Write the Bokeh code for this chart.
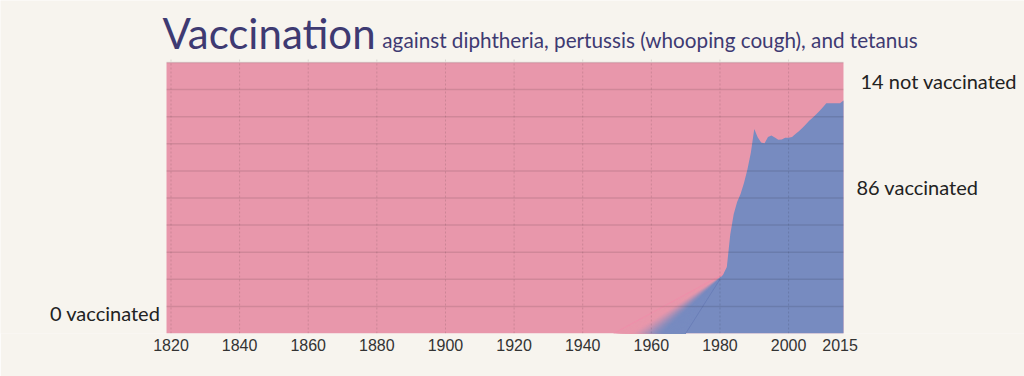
from bokeh.plotting import figure
from bokeh.models import Label, FixedTicker, Range1d
from bokeh.embed import file_html
from bokeh.resources import INLINE

# ---------------- data ----------------
years = [1980, 1981, 1982, 1983, 1984, 1985, 1986, 1987, 1988, 1989,
         1990, 1991, 1992, 1993, 1994, 1995, 1996, 1997, 1998, 1999,
         2000, 2001, 2002, 2003, 2004, 2005, 2006, 2007, 2008, 2009,
         2010, 2011, 2012, 2013, 2014, 2015, 2016]
vaccinated = [20.0, 22.0, 24.5, 36.5, 44.0, 48.5, 51.5, 55.5, 60.5, 66.7,
              75.5, 72.4, 70.5, 70.2, 72.5, 73.1, 72.3, 71.5, 71.6, 72.2,
              72.2, 72.5, 73.6, 74.6, 75.8, 77.1, 78.5, 79.6, 80.8, 82.1,
              83.5, 85.0, 85.0, 85.0, 85.0, 85.0, 86.0]
# estimated (pre-data) range: lower and upper guesses of when coverage began
est_lower_years = [1970, 1980]
est_lower_values = [0, 20.0]
est_upper_years = [1949, 1981]
est_upper_values = [0, 22.0]

x_ticks = [1820, 1840, 1860, 1880, 1900, 1920, 1940, 1960, 1980, 2000, 2015]
x_grid = [1820, 1840, 1860, 1880, 1900, 1920, 1940, 1960, 1980, 2000]
y_grid = [10, 20, 30, 40, 50, 60, 70, 80, 90, 100]

latest = vaccinated[-1]

# ---------------- layout / styling ----------------
PLOT_X0, PLOT_X1 = 1818.7, 2016.0      # extent of the coloured plot area
BG = "#F7F4EE"
PINK = (232, 151, 171)
BLUE = (119, 139, 192)
TITLE_C = "#3E3A72"
TEXT_C = "#222222"


def hexc(c):
    return "#%02x%02x%02x" % tuple(int(round(v)) for v in c)


p = figure(width=1024, height=376, output_backend="svg", toolbar_location=None,
           x_range=Range1d(1770.31, 2068.76), y_range=Range1d(0, 122.88),
           y_axis_location=None,
           min_border_left=0, min_border_right=0,
           min_border_top=0, min_border_bottom=43)
p.background_fill_color = BG
p.border_fill_color = BG
p.outline_line_color = None
p.xgrid.visible = False
p.ygrid.visible = False

# not-vaccinated (pink) background of the plot area
p.quad(left=PLOT_X0, right=PLOT_X1, bottom=0, top=100,
       fill_color=hexc(PINK), line_color=None)

# gradient band between the two estimate lines (cumulative strips, no seams)
N = 60
xs, ys, cols = [], [], []
for k in range(N):
    t0 = k / N
    bx = est_upper_years[0] + (est_lower_years[0] - est_upper_years[0]) * t0
    tx = est_upper_years[1] + (est_lower_years[1] - est_upper_years[1]) * t0
    ty = est_upper_values[1] + (est_lower_values[1] - est_upper_values[1]) * t0
    xs.append([bx, tx, est_lower_years[1], est_lower_years[0]])
    ys.append([0, ty, est_lower_values[1], est_lower_values[0]])
    s = min(max((t0 - 0.2) / 0.5, 0), 1)
    s = s * s * (3 - 2 * s)
    cols.append(hexc([PINK[i] + (BLUE[i] - PINK[i]) * s for i in range(3)]))
p.patches(xs=xs, ys=ys, fill_color=cols, line_color=None)

# vaccinated area
area_x = est_lower_years[:1] + years
area_y = est_lower_values[:1] + vaccinated
p.varea(x=area_x, y1=0, y2=area_y, fill_color=hexc(BLUE))

# faint estimate lines
p.line(est_upper_years, est_upper_values, line_color="#F28BA9", line_alpha=0.7, line_width=1)
p.line(est_lower_years, est_lower_values, line_color="#6276B2", line_alpha=0.6, line_width=1)

# grid lines over the areas
p.segment(x0=PLOT_X0, x1=PLOT_X1, y0=y_grid, y1=y_grid,
          line_color="#000000", line_alpha=0.1, line_width=1.5)
p.segment(x0=x_grid, x1=x_grid, y0=0, y1=101.5,
          line_color="#000000", line_alpha=0.12, line_width=1, line_dash="2 2")

# x axis
ax = p.xaxis[0]
ax.ticker = FixedTicker(ticks=x_ticks)
ax.axis_line_color = None
ax.major_tick_line_color = None
ax.minor_tick_line_color = None
ax.major_tick_out = 0
ax.major_tick_in = 0
ax.major_label_standoff = 5
ax.major_label_text_font = "Liberation Sans"
ax.major_label_text_font_size = "16px"
ax.major_label_text_color = "#333333"

# texts
p.add_layout(Label(x=1817.5, y=110.9, text="Vaccination", text_font="Lato",
                   text_font_size="42px", text_color=TITLE_C,
                   text_baseline="alphabetic", text_align="left"))
p.add_layout(Label(x=1881.6, y=108.3,
                   text="against diphtheria, pertussis (whooping cough), and tetanus",
                   text_font="Lato", text_font_size="20.7px", text_color=TITLE_C,
                   text_baseline="alphabetic", text_align="left"))
p.add_layout(Label(x=2020.96, y=93.3, text=f"{100 - latest:.0f} not vaccinated",
                   text_font="Lato", text_font_size="20px", text_color=TEXT_C,
                   text_baseline="middle", text_align="left"))
p.add_layout(Label(x=2019.8, y=54.2, text=f"{latest:.0f} vaccinated",
                   text_font="Lato", text_font_size="20px", text_color=TEXT_C,
                   text_baseline="middle", text_align="left"))
p.add_layout(Label(x=1816.9, y=7.5, text="0 vaccinated",
                   text_font="Lato", text_font_size="20px", text_color=TEXT_C,
                   text_baseline="middle", text_align="right"))

open("out.html", "w").write(file_html(p, INLINE))
